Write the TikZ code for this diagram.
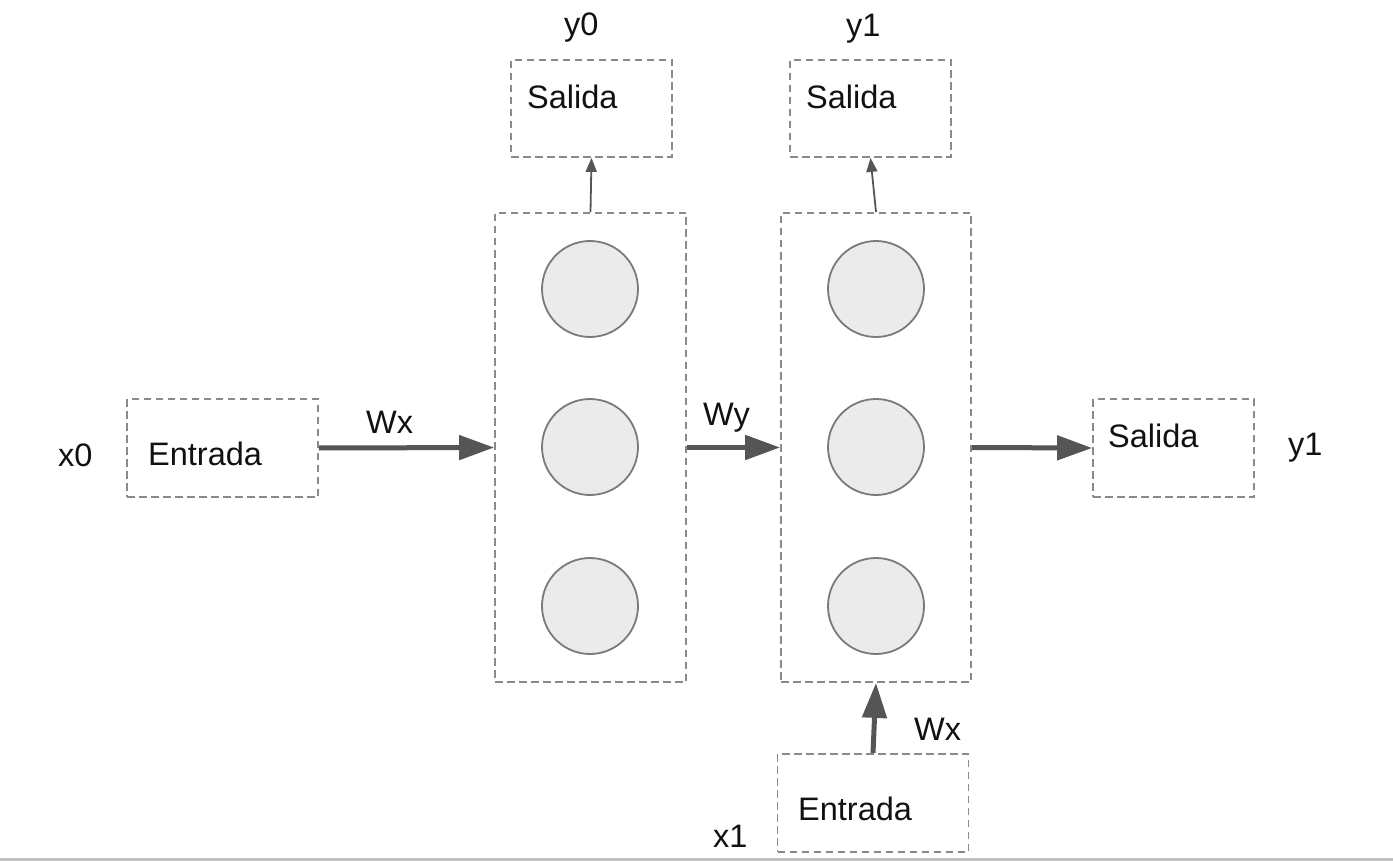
\documentclass[tikz,border=0pt]{standalone}
\usepackage{fontspec}
\setmainfont{Liberation Sans}
\usetikzlibrary{arrows.meta}
\definecolor{dashgray}{HTML}{8A8A8A}
\definecolor{arrgray}{HTML}{555555}
\definecolor{circfill}{HTML}{EBEBEB}
\definecolor{circdraw}{HTML}{7A7A7A}
\definecolor{basegray}{HTML}{C0C0C0}
\definecolor{txtcol}{HTML}{111111}
\begin{document}
\begin{tikzpicture}[x=1pt,y=-1pt,
  dbox/.style={draw=dashgray, line width=1.8pt, dash pattern=on 7.5pt off 4.5pt, rectangle, inner sep=0pt},
  neuron/.style={circle, draw=circdraw, fill=circfill, line width=1.8pt, minimum size=96pt, inner sep=0pt},
  txt/.style={inner sep=0pt, anchor=base west, text=txtcol, font=\fontsize{32.5}{37}\selectfont},
  thick arr/.style={draw=arrgray, line width=5pt, -{Triangle[length=35pt,width=24pt]}},
  thin arr/.style={draw=arrgray, line width=1.8pt, -{Triangle[length=14pt,width=11pt]}}
]
\useasboundingbox (0,0) rectangle (1393,861);
\fill[white] (0,0) rectangle (1393,861);
\fill[basegray] (0,858) rectangle (1393,861);

% boxes
\node[dbox, minimum width=191pt, minimum height=98pt] (in0) at (222.5,448) {};
\node[dbox, minimum width=191pt, minimum height=469pt] (h1) at (590.5,447.5) {};
\node[dbox, minimum width=190pt, minimum height=469pt] (h2) at (876,447.5) {};
\node[dbox, minimum width=161pt, minimum height=98pt] (out2) at (1173.5,448) {};
\node[dbox, minimum width=161pt, minimum height=97pt] (s0) at (591.5,108.5) {};
\node[dbox, minimum width=161pt, minimum height=97pt] (s1) at (870.5,108.5) {};
\node[dbox, minimum width=191pt, minimum height=98pt] (in1) at (873,803) {};

% neurons
\node[neuron] (n11) at (590,289) {};
\node[neuron] (n12) at (590,447) {};
\node[neuron] (n13) at (590,606) {};
\node[neuron] (n21) at (876,289) {};
\node[neuron] (n22) at (876,447) {};
\node[neuron] (n23) at (876,606) {};

% box texts
\node[txt] (tin0) at (148,465) {Entrada};
\node[txt] (tout2) at (1108,447) {Salida};
\node[txt] (ts0) at (527,109) {Salida};
\node[txt] (ts1) at (806,109) {Salida};
\node[txt] (tin1) at (798,820) {Entrada};

% labels
\node[txt] (lx0) at (58,466) {x0};
\node[txt] (ly1r) at (1288,455) {y1};
\node[txt] (ly0) at (564,36) {y0};
\node[txt] (ly1t) at (846,37) {y1};
\node[txt] (lwx0) at (366,433) {Wx};
\node[txt] (lwy) at (703,425) {Wy};
\node[txt] (lwx1) at (914,740) {Wx};
\node[txt] (lx1) at (713,847) {x1};

% connectors
\draw[thick arr] (in0.east) -- (h1.west);
\draw[thick arr] (h1.east) -- (h2.west);
\draw[thick arr] (h2.east) -- (out2.west);
\draw[thick arr] (in1.north) -- (h2.south);
\draw[thin arr] (h1.north) -- (s0.south);
\draw[thin arr] (h2.north) -- (s1.south);
\end{tikzpicture}
\end{document}
